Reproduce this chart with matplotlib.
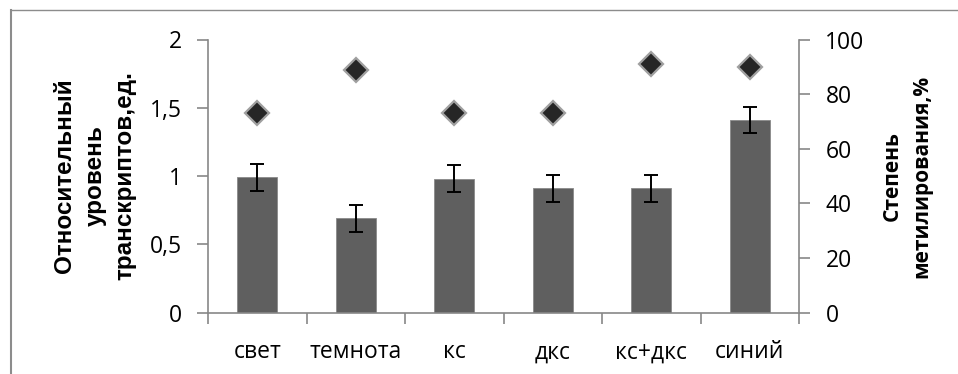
import matplotlib
matplotlib.use("Agg")
import matplotlib.pyplot as plt
from matplotlib.lines import Line2D

# Data
categories = ["свет", "темнота", "кс", "дкс", "кс+дкс", "синий"]
transcripts = [0.99, 0.69, 0.98, 0.91, 0.91, 1.41]
transcripts_err = [0.10, 0.10, 0.10, 0.10, 0.10, 0.095]
methylation = [73, 89, 73, 73, 91, 90]

left_ticks = [0, 0.5, 1, 1.5, 2]
left_ticklabels = ["0", "0,5", "1", "1,5", "2"]
right_ticks = [0, 20, 40, 60, 80, 100]
right_ticklabels = ["0", "20", "40", "60", "80", "100"]

W, H = 958, 374
fig = plt.figure(figsize=(W / 100, H / 100), dpi=100)
fig.patch.set_facecolor("white")

ax = fig.add_axes([208 / W, 1 - 312.5 / H, (799 - 208) / W, (312.5 - 39.5) / H])
ax2 = ax.twinx()

spine_col = "#878787"
tick_font = dict(family="Open Sans", size=16.5)

x = list(range(len(categories)))
ax.bar(x, transcripts, width=0.41, color="#5f5f5f", edgecolor="#8a8a8a",
       linewidth=0.6, zorder=2)
ax.errorbar(x, transcripts, yerr=transcripts_err, fmt="none", ecolor="black",
            elinewidth=1.4, capsize=5, capthick=1.4, zorder=3)

ax2.plot(x, methylation, linestyle="none", marker="D", markersize=12,
         markerfacecolor="#262626", markeredgecolor="#a0a0a0",
         markeredgewidth=1.6, zorder=4)

ax.set_xlim(-0.5, len(categories) - 0.5)
ax.set_ylim(0, 2)
ax2.set_ylim(0, 100)

# category ticks sit on the boundaries between groups
ax.set_xticks([i - 0.5 for i in range(len(categories) + 1)])
ax.set_xticklabels([])
ax.set_xticks(x, minor=True)
ax.set_xticklabels(categories, minor=True, fontdict=tick_font)
ax.tick_params(axis="x", which="minor", length=0, pad=20)
ax.tick_params(axis="x", which="major", length=8, width=1.2, color=spine_col,
               direction="out")

ax.set_yticks(left_ticks)
ax.set_yticklabels(left_ticklabels, fontdict=tick_font)
ax2.set_yticks(right_ticks)
ax2.set_yticklabels(right_ticklabels, fontdict=tick_font)
for a in (ax, ax2):
    a.tick_params(axis="y", length=8, width=1.2, color=spine_col, pad=11,
                  direction="out")
    for s in a.spines.values():
        s.set_color(spine_col)
        s.set_linewidth(1.2)
    a.spines["top"].set_visible(False)
ax.spines["right"].set_visible(False)
ax2.spines["left"].set_visible(False)
ax2.spines["bottom"].set_visible(False)

# axis titles
fig.text(95 / W, 1 - 176 / H, "Относительный\nуровень\nтранскриптов,ед.",
         rotation=90, ha="center", va="center", multialignment="center",
         family="Liberation Sans", weight="bold", size=17.5, linespacing=1.4)
fig.text(907 / W, 1 - 176 / H, "Степень\nметилирования,%",
         rotation=90, ha="center", va="center", multialignment="center",
         family="Open Sans", weight="bold", size=15, linespacing=1.5)

# frame around the chart
fig.add_artist(Line2D([11 / W, 11 / W], [0, 1 - 10 / H], color="#8c8c8c",
                      linewidth=1.5, transform=fig.transFigure))
fig.add_artist(Line2D([11 / W, 1], [1 - 10 / H, 1 - 10 / H], color="#8c8c8c",
                      linewidth=1.0, transform=fig.transFigure))

fig.savefig("out.png", dpi=100)
